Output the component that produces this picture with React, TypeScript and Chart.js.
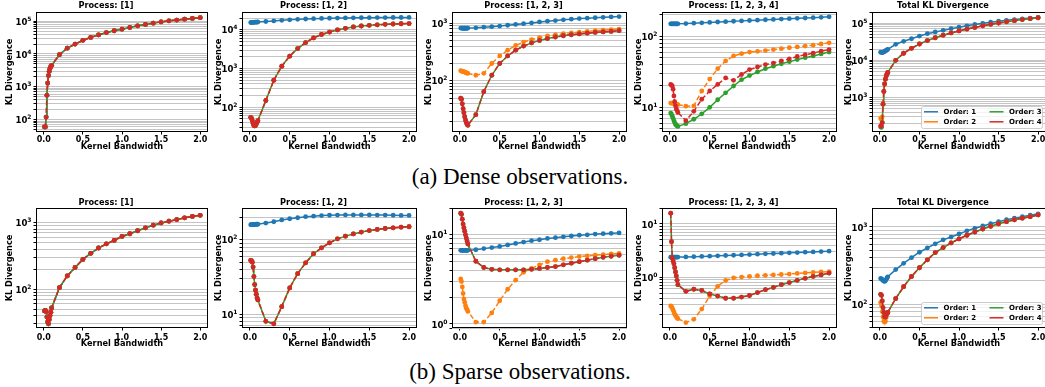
import React, { useEffect, useRef } from "react";
import { Chart, registerables } from "chart.js";

Chart.register(...registerables);

// Kernel bandwidths evaluated in every panel
const BANDWIDTH = [0.01, 0.02, 0.03, 0.04, 0.05, 0.06, 0.07, 0.08, 0.09, 0.1, 0.2, 0.3, 0.4, 0.5, 0.6, 0.7, 0.8, 0.9, 1.0, 1.1, 1.2, 1.3, 1.4, 1.5, 1.6, 1.7, 1.8, 1.9, 2.0];

// ---- Dense observations ----
const denseP1All = [60, 60, 120, 550, 1300, 2200, 3000, 3700, 4200, 4500, 9500, 15000, 20000, 26000, 32000, 38000, 45000, 51000, 57000, 64000, 72000, 79000, 87000, 95000, 102000, 108000, 115000, 121000, 128000];

const denseP2Order1 = [15500, 15600, 15600, 15700, 15700, 15800, 15800, 15900, 15900, 16000, 16500, 17100, 17700, 18200, 18700, 19100, 19500, 19800, 20000, 20200, 20400, 20500, 20600, 20700, 20800, 20800, 20900, 20900, 21000];
const denseP2Higher = [55, 52, 45, 38, 34, 33, 34, 37, 41, 45, 150, 500, 1150, 2100, 3300, 4700, 6200, 7600, 8800, 10000, 11000, 11900, 12600, 13100, 13500, 13900, 14200, 14400, 14600];

const denseP3Order1 = [820, 820, 815, 815, 815, 815, 815, 815, 815, 820, 830, 850, 870, 890, 920, 950, 980, 1010, 1050, 1080, 1110, 1140, 1170, 1200, 1220, 1240, 1260, 1280, 1300];
const denseP3Order2 = [150, 148, 146, 145, 144, 142, 140, 138, 136, 135, 125, 135, 200, 270, 340, 410, 470, 520, 560, 600, 630, 655, 680, 700, 720, 740, 755, 770, 790];
const denseP3Order34 = [50, 48, 40, 33, 28, 24, 21, 19, 17.5, 17, 26, 65, 125, 200, 270, 340, 400, 455, 500, 540, 575, 605, 630, 650, 670, 690, 705, 720, 740];

const denseP4Order1 = [150, 150, 150, 150, 150, 150, 150, 150, 150, 150, 151, 153, 155, 157, 159, 161, 163, 165, 167, 169, 171, 173, 175, 177, 179, 181, 183, 185, 188];
const denseP4Order2 = [11.5, 11.5, 11.5, 11.4, 11.3, 11.2, 11.1, 11, 11, 10.9, 10.4, 10.5, 17, 25, 35, 45, 53, 57, 60, 61.5, 63, 65, 67, 69, 71, 73, 75, 78, 81];
const denseP4Order3 = [8.3, 8, 7.5, 7, 6.5, 6.1, 5.8, 5.6, 5.5, 5.4, 5.9, 6.8, 8.1, 10, 12.8, 16, 20, 24.5, 28, 31.5, 35, 38, 41, 44, 47, 50, 53, 56.5, 60];
const denseP4Order4 = [21, 20.5, 20, 18, 14.5, 12, 10.5, 9.5, 9, 8.5, 6.5, 8.8, 13, 17, 21, 26, 24, 29, 34, 37, 40, 42, 45, 48, 52, 55, 58, 62, 65];

const denseTotalOrder1 = [16500, 16300, 16200, 16400, 16800, 17300, 17900, 18500, 19200, 19800, 27000, 32500, 38000, 45000, 52000, 58000, 64000, 71000, 78000, 85000, 92000, 99000, 106000, 113000, 119000, 125000, 131000, 137000, 143000];
const denseTotalOrder2 = [270, 260, 300, 700, 1450, 2300, 3100, 3800, 4300, 4700, 10000, 15500, 21000, 27500, 34000, 40500, 47500, 54500, 62000, 69500, 77000, 85000, 93000, 101000, 109000, 117000, 125000, 132000, 140000];
const denseTotalOrder3 = [160, 155, 210, 650, 1450, 2300, 3100, 3800, 4300, 4700, 10000, 15500, 21000, 27500, 34000, 40500, 47500, 54500, 62000, 69500, 77000, 85000, 93000, 101000, 109000, 117000, 125000, 132000, 140000];
const denseTotalOrder4 = [170, 170, 210, 650, 1450, 2300, 3100, 3800, 4300, 4700, 10000, 15500, 21000, 27500, 34000, 40500, 47500, 54500, 62000, 69500, 77000, 85000, 93000, 101000, 109000, 117000, 125000, 132000, 140000];

// ---- Sparse observations ----
const sparseP1All = [47, 48, 46, 38, 32, 30, 35, 40, 45, 52, 105, 158, 212, 280, 345, 415, 480, 540, 620, 680, 755, 835, 915, 990, 1050, 1110, 1180, 1240, 1290];

const sparseP2Order1 = [160, 160, 160, 160, 160, 161, 161, 162, 162, 162, 168, 175, 185, 192, 198, 205, 208, 212, 214, 215, 216, 216, 216, 216, 215, 215, 214, 213, 213];
const sparseP2Higher = [53, 52, 50, 43, 32, 25, 21, 18.5, 16.5, 15.5, 8, 7.4, 12.6, 22.5, 35, 49, 65, 78, 91, 103, 112, 120, 127, 133, 138, 142, 145, 148, 150];

const sparseP3Order1 = [6.7, 6.7, 6.7, 6.7, 6.7, 6.7, 6.7, 6.7, 6.7, 6.7, 6.8, 7.0, 7.2, 7.4, 7.7, 8.0, 8.3, 8.6, 8.8, 9.1, 9.3, 9.5, 9.7, 9.9, 10.0, 10.2, 10.3, 10.4, 10.5];
const sparseP3Order2 = [3.2, 3.0, 2.6, 2.2, 1.9, 1.75, 1.6, 1.5, 1.45, 1.38, 1.05, 1.05, 1.33, 1.82, 2.45, 3.1, 3.8, 4.2, 4.6, 5.0, 5.2, 5.4, 5.55, 5.7, 5.8, 5.9, 6.0, 6.1, 6.2];
const sparseP3Order34 = [17.5, 17, 15, 13.2, 12, 11, 10, 9.2, 8.5, 7.9, 5.05, 4.3, 4.1, 4.05, 4.05, 4.05, 4.05, 4.1, 4.2, 4.3, 4.4, 4.6, 4.8, 5.0, 5.2, 5.4, 5.6, 5.75, 5.9];

const sparseP4Order1 = [2.37, 2.37, 2.37, 2.37, 2.37, 2.37, 2.38, 2.38, 2.38, 2.38, 2.4, 2.42, 2.45, 2.48, 2.51, 2.55, 2.58, 2.62, 2.66, 2.7, 2.74, 2.78, 2.82, 2.86, 2.9, 2.94, 2.98, 3.02, 3.07];
const sparseP4Order2 = [0.286, 0.28, 0.26, 0.24, 0.22, 0.2, 0.19, 0.18, 0.17, 0.165, 0.139, 0.16, 0.25, 0.44, 0.67, 0.865, 0.97, 1.0, 1.03, 1.06, 1.08, 1.1, 1.12, 1.14, 1.17, 1.2, 1.23, 1.25, 1.27];
const sparseP4Order34 = [16, 4.65, 2.3, 2.0, 1.78, 1.5, 1.25, 1.05, 0.87, 0.72, 0.54, 0.59, 0.56, 0.48, 0.44, 0.4, 0.4, 0.42, 0.45, 0.51, 0.58, 0.64, 0.72, 0.79, 0.87, 0.95, 1.03, 1.1, 1.19];

const sparseTotalOrder1 = [215, 212, 207, 202, 199, 197, 200, 208, 218, 226, 280, 338, 400, 470, 535, 605, 680, 740, 810, 890, 960, 1030, 1100, 1170, 1240, 1300, 1360, 1420, 1480];
const sparseTotalOrder2 = [105, 95, 80, 68, 60, 58, 60, 67, 74, 78, 118, 168, 228, 296, 375, 465, 540, 620, 700, 780, 860, 940, 1020, 1100, 1170, 1240, 1300, 1360, 1430];
const sparseTotalOrder34 = [134, 130, 110, 90, 78, 69, 68, 72, 76, 78, 118, 168, 228, 296, 375, 465, 540, 620, 700, 780, 860, 940, 1020, 1100, 1170, 1240, 1300, 1360, 1430];

const ORDER_LABELS = ["Order: 1", "Order: 2", "Order: 3", "Order: 4"];
const ORDER_COLORS = ["#1f77b4", "#ff7f0e", "#2ca02c", "#d62728"];
const ORDER_DASH: number[][] = [[], [5, 2.5], [], [5, 2.5]];
const X_TICKS = [0, 0.5, 1.0, 1.5, 2.0];

const FONT = "'DejaVu Sans', 'Liberation Sans', sans-serif";
const Y_AXIS_W = 32;
const X_AXIS_H = 24;
const TITLE_H = 12;
const RIGHT_PAD = 4;

const ROWS = [
  { top: 12, bottom: 132, titleGap: 6, tickPad: 0.5, xTitleGap: 14.7 },
  { top: 208, bottom: 328, titleGap: 4.8, tickPad: 2.5, xTitleGap: 16.3 },
];
const COLUMNS = [
  { left: 36, right: 208, yTitleGap: 26.5 },
  { left: 242, right: 417, yTitleGap: 23.5 },
  { left: 452, right: 627, yTitleGap: 23.5 },
  { left: 662, right: 837, yTitleGap: 23.5 },
  { left: 872, right: 1046, yTitleGap: 23.5 },
];

type PanelSpec = {
  title: string;
  series: number[][];
  yMin: number;
  yMax: number;
  row: number;
  col: number;
  legend?: boolean;
};

const PANELS: PanelSpec[] = [
  { title: "Process: [1]", series: [denseP1All, denseP1All, denseP1All, denseP1All], yMin: 42, yMax: 190000, row: 0, col: 0 },
  { title: "Process: [1, 2]", series: [denseP2Order1, denseP2Higher, denseP2Higher, denseP2Higher], yMin: 23, yMax: 29000, row: 0, col: 1 },
  { title: "Process: [1, 2, 3]", series: [denseP3Order1, denseP3Order2, denseP3Order34, denseP3Order34], yMin: 13, yMax: 1560, row: 0, col: 2 },
  { title: "Process: [1, 2, 3, 4]", series: [denseP4Order1, denseP4Order2, denseP4Order3, denseP4Order4], yMin: 4.5, yMax: 220, row: 0, col: 3 },
  { title: "Total KL Divergence", series: [denseTotalOrder1, denseTotalOrder2, denseTotalOrder3, denseTotalOrder4], yMin: 117, yMax: 200000, row: 0, col: 4, legend: true },
  { title: "Process: [1]", series: [sparseP1All, sparseP1All, sparseP1All, sparseP1All], yMin: 26, yMax: 1660, row: 1, col: 0 },
  { title: "Process: [1, 2]", series: [sparseP2Order1, sparseP2Higher, sparseP2Higher, sparseP2Higher], yMin: 6.5, yMax: 268, row: 1, col: 1 },
  { title: "Process: [1, 2, 3]", series: [sparseP3Order1, sparseP3Order2, sparseP3Order34, sparseP3Order34], yMin: 0.9, yMax: 20, row: 1, col: 2 },
  { title: "Process: [1, 2, 3, 4]", series: [sparseP4Order1, sparseP4Order2, sparseP4Order34, sparseP4Order34], yMin: 0.11, yMax: 20, row: 1, col: 3 },
  { title: "Total KL Divergence", series: [sparseTotalOrder1, sparseTotalOrder2, sparseTotalOrder34, sparseTotalOrder34], yMin: 49, yMax: 1760, row: 1, col: 4, legend: true },
];

function decadeExponent(v: number): number | null {
  const e = Math.round(Math.log10(v));
  return Math.abs(v / Math.pow(10, e) - 1) > 1e-6 ? null : e;
}

function logGridTicks(min: number, max: number) {
  const ticks: { value: number; major: boolean }[] = [];
  for (let e = Math.floor(Math.log10(min)); e <= Math.ceil(Math.log10(max)); e++) {
    for (let m = 1; m <= 9; m++) {
      const v = m * Math.pow(10, e);
      if (v >= min && v <= max) ticks.push({ value: v, major: m === 1 });
    }
  }
  return ticks;
}

// Axes box drawn on all four sides
const framePlugin = {
  id: "axesFrame",
  afterDraw(chart: any) {
    const { ctx, chartArea } = chart;
    const { left, top, right, bottom } = chartArea;
    ctx.save();
    ctx.strokeStyle = "#000";
    ctx.lineWidth = 1;
    ctx.strokeRect(Math.round(left) + 0.5, Math.round(top) + 0.5, Math.round(right - left) - 1, Math.round(bottom - top) - 1);
    ctx.restore();
  },
};

// Decade labels written as 10 with a raised exponent
const decadeLabelPlugin = {
  id: "decadeLabels",
  afterDraw(chart: any) {
    const { ctx, chartArea } = chart;
    const yScale = chart.scales.y;
    ctx.save();
    ctx.fillStyle = "#000";
    ctx.textBaseline = "alphabetic";
    ctx.textAlign = "left";
    for (const tick of yScale.ticks) {
      const e = decadeExponent(tick.value);
      if (e === null) continue;
      const y = yScale.getPixelForValue(tick.value);
      const expText = e < 0 ? "\u2212" + String(-e) : String(e);
      ctx.font = `bold 6px ${FONT}`;
      const expW = ctx.measureText(expText).width;
      ctx.font = `bold 8.5px ${FONT}`;
      const baseW = ctx.measureText("10").width;
      const right = chartArea.left - 4.5;
      const baseline = y + 3.6;
      ctx.fillText("10", right - expW - baseW, baseline);
      ctx.font = `bold 6px ${FONT}`;
      ctx.fillText(expText, right - expW, baseline - 4);
    }
    ctx.restore();
  },
};

// Two-column legend placed inside the lower-right corner of the axes
const insetLegendPlugin = {
  id: "insetLegend",
  afterDatasetsDraw(chart: any) {
    const { ctx, chartArea } = chart;
    const boxW = 121;
    const boxH = 22;
    const x0 = chartArea.right - 4 - boxW;
    const y0 = chartArea.bottom - 4 - boxH;
    ctx.save();
    ctx.beginPath();
    ctx.roundRect(x0 + 0.5, y0 + 0.5, boxW, boxH, 2);
    ctx.fillStyle = "rgba(255,255,255,0.8)";
    ctx.fill();
    ctx.strokeStyle = "#cccccc";
    ctx.lineWidth = 1;
    ctx.stroke();
    ctx.font = `bold 7px ${FONT}`;
    ctx.textBaseline = "middle";
    ctx.textAlign = "left";
    ORDER_LABELS.forEach((label, i) => {
      const col = Math.floor(i / 2);
      const row = i % 2;
      const lx = x0 + 3 + col * 65.5;
      const ly = y0 + 5.8 + row * 10;
      ctx.beginPath();
      ctx.strokeStyle = ORDER_COLORS[i];
      ctx.lineWidth = 1.5;
      ctx.setLineDash([]);
      ctx.moveTo(lx, ly);
      ctx.lineTo(lx + 14, ly);
      ctx.stroke();
      ctx.fillStyle = "#000";
      ctx.fillText(label, lx + 19.5, ly + 0.5);
    });
    ctx.restore();
  },
};

function Panel({ spec }: { spec: PanelSpec }) {
  const ref = useRef<HTMLCanvasElement | null>(null);
  const row = ROWS[spec.row];
  const col = COLUMNS[spec.col];
  const width = col.right - col.left + Y_AXIS_W + RIGHT_PAD;
  const height = row.bottom - row.top + TITLE_H + X_AXIS_H;

  useEffect(() => {
    if (!ref.current) return;
    const titleBottomPad = row.titleGap - 4.1;
    const titleTopPad = TITLE_H - 8.2 - titleBottomPad;
    const plugins: any[] = [framePlugin, decadeLabelPlugin];
    if (spec.legend) plugins.push(insetLegendPlugin);
    const chart = new Chart(ref.current, {
      type: "line",
      data: {
        datasets: spec.series.map((vals, i) => ({
          label: ORDER_LABELS[i],
          data: BANDWIDTH.map((x, j) => ({ x, y: vals[j] })),
          borderColor: ORDER_COLORS[i],
          backgroundColor: ORDER_COLORS[i],
          pointBackgroundColor: ORDER_COLORS[i],
          borderWidth: 1.5,
          borderDash: ORDER_DASH[i],
          pointRadius: 2.4,
          pointBorderWidth: 0,
          tension: 0,
          order: 3 - i,
        })),
      },
      options: {
        animation: false,
        responsive: false,
        maintainAspectRatio: false,
        events: [],
        layout: { padding: { left: 0, top: 0, right: RIGHT_PAD, bottom: 0 } },
        plugins: {
          legend: { display: false },
          tooltip: { enabled: false },
          title: {
            display: true,
            text: spec.title,
            color: "#000",
            font: { family: FONT, size: 8.2, weight: "bold", lineHeight: 1 },
            padding: { top: titleTopPad, bottom: titleBottomPad },
          },
        },
        scales: {
          x: {
            type: "linear",
            min: -0.0995,
            max: 2.0995,
            afterBuildTicks: (scale: any) => {
              scale.ticks = X_TICKS.map((v) => ({ value: v }));
            },
            afterFit: (scale: any) => {
              scale.height = X_AXIS_H;
            },
            border: { display: false },
            grid: { drawOnChartArea: false, drawTicks: true, tickLength: 2.5, tickColor: "#000", tickWidth: 1 },
            ticks: {
              autoSkip: false,
              maxRotation: 0,
              padding: row.tickPad,
              color: "#000",
              font: { family: FONT, size: 8, weight: "bold" },
              callback: (v: any) => Number(v).toFixed(1),
            },
            title: {
              display: true,
              text: "Kernel Bandwidth",
              color: "#000",
              font: { family: FONT, size: 8.2, weight: "bold", lineHeight: 1 },
              padding: { top: 0, bottom: X_AXIS_H - row.xTitleGap - 4.1 },
            },
          },
          y: {
            type: "logarithmic",
            min: spec.yMin,
            max: spec.yMax,
            afterBuildTicks: (scale: any) => {
              scale.ticks = logGridTicks(spec.yMin, spec.yMax);
            },
            afterFit: (scale: any) => {
              scale.width = Y_AXIS_W;
            },
            border: { display: false },
            grid: {
              color: "#c4c4c4",
              lineWidth: 1,
              drawTicks: true,
              tickLength: 2.5,
              tickColor: "#000",
              tickWidth: 1,
            },
            ticks: {
              autoSkip: false,
              padding: 2,
              color: "#000",
              font: { family: FONT, size: 8, weight: "bold" },
              callback: () => "",
            },
            title: {
              display: true,
              text: "KL Divergence",
              color: "#000",
              font: { family: FONT, size: 8.2, weight: "bold", lineHeight: 1 },
              padding: { top: Y_AXIS_W - col.yTitleGap - 4.1, bottom: 0 },
            },
          },
        },
      } as any,
      plugins,
    });
    return () => chart.destroy();
  }, []);

  return (
    <canvas
      ref={ref}
      width={width}
      height={height}
      style={{ position: "absolute", left: col.left - Y_AXIS_W, top: row.top - TITLE_H, width, height }}
    />
  );
}

const captionStyle: React.CSSProperties = {
  position: "absolute",
  left: 0,
  width: 1040,
  textAlign: "center",
  fontFamily: "'Liberation Serif', 'Times New Roman', serif",
  fontSize: 23,
  lineHeight: "23px",
  color: "#000",
  whiteSpace: "nowrap",
};

export default function App() {
  return (
    <div style={{ position: "absolute", left: 0, top: 0, width: 1045, height: 387, overflow: "hidden", background: "#fff" }}>
      {PANELS.map((p, i) => (
        <Panel key={i} spec={p} />
      ))}
      <div style={{ ...captionStyle, top: 165 }}>(a) Dense observations.</div>
      <div style={{ ...captionStyle, top: 360 }}>(b) Sparse observations.</div>
    </div>
  );
}
